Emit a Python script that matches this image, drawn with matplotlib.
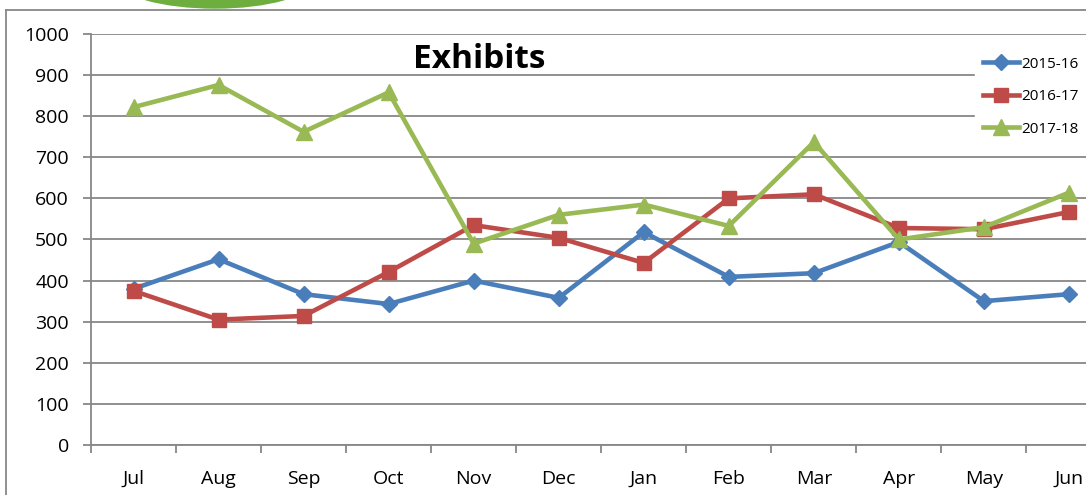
import numpy as np
import matplotlib
matplotlib.use("Agg")
import matplotlib.pyplot as plt
from matplotlib.patches import Ellipse
from matplotlib.lines import Line2D

months = ["Jul", "Aug", "Sep", "Oct", "Nov", "Dec", "Jan", "Feb", "Mar", "Apr", "May", "Jun"]
y_2015 = [380, 452, 367, 343, 400, 358, 518, 409, 418, 494, 350, 367]
y_2016 = [375, 305, 314, 421, 535, 504, 443, 600, 610, 528, 525, 567]
y_2017 = [822, 876, 762, 858, 490, 560, 585, 533, 737, 500, 530, 614]
series_names = ["2015-16", "2016-17", "2017-18"]

W, H = 1086, 495
plt.rcParams['font.family'] = ['Open Sans', 'DejaVu Sans']

fig = plt.figure(figsize=(W / 100, H / 100), dpi=100)

# axes runs off the right side of the picture (chart is cropped)
left, right, top, bottom = 91, 1111.5, 34, 445
ax = fig.add_axes([left / W, 1 - bottom / H, (right - left) / W, (bottom - top) / H])

grey = '#878787'
x = np.arange(len(months))
ax.plot(x, y_2015, color='#4A7EBB', lw=3.3, marker='D', ms=8.5, label=series_names[0])
ax.plot(x, y_2016, color='#BE4B48', lw=3.3, marker='s', ms=10.5, label=series_names[1])
ax.plot(x, y_2017, color='#98B954', lw=3.3, marker='^', ms=11.5, label=series_names[2])

ax.set_xlim(-0.5, 11.5)
ax.set_ylim(0, 1000)
ax.set_yticks(np.arange(0, 1001, 100))
ax.grid(axis='y', color=grey, lw=1.3)
ax.set_axisbelow(True)

ax.set_xticks(np.arange(-0.5, 12, 1))
ax.set_xticklabels([])
ax.set_xticks(x, minor=True)
ax.set_xticklabels(months, minor=True)
ax.tick_params(axis='x', which='major', length=6, width=1.3, color=grey)
ax.tick_params(axis='x', which='minor', length=0, pad=18, labelsize=14)
ax.tick_params(axis='y', length=6, width=1.3, color=grey, pad=10, labelsize=14)

for s in ['top', 'right']:
    ax.spines[s].set_visible(False)
for s in ['left', 'bottom']:
    ax.spines[s].set_color(grey)
    ax.spines[s].set_linewidth(1.3)

leg = ax.legend(loc='upper left', bbox_to_anchor=(975 / W, 1 - 49 / H),
                bbox_transform=fig.transFigure, fontsize=11, frameon=True,
                handlelength=2.4, labelspacing=1.15, handletextpad=0.15,
                borderpad=0.5, borderaxespad=0)
leg.get_frame().set_facecolor('white')
leg.get_frame().set_edgecolor('white')
leg.get_frame().set_alpha(1)

fig.text(479 / W, 1 - 59 / H, "Exhibits", fontsize=24, fontweight='bold',
         ha='center', va='center')

# chart border and the green shape above it
fig.add_artist(Line2D([6 / W, 6 / W], [0, 1 - 10 / H], color=grey, lw=1.3,
                      transform=fig.transFigure))
fig.add_artist(Line2D([6 / W, 1], [1 - 10 / H, 1 - 10 / H], color=grey, lw=1.3,
                      transform=fig.transFigure))
fig.add_artist(Ellipse((215 / W, 1 + 20 / H), 194 / W, 56 / H, color='#6DAE3F',
                       transform=fig.transFigure))

fig.savefig("out.png", dpi=100)
